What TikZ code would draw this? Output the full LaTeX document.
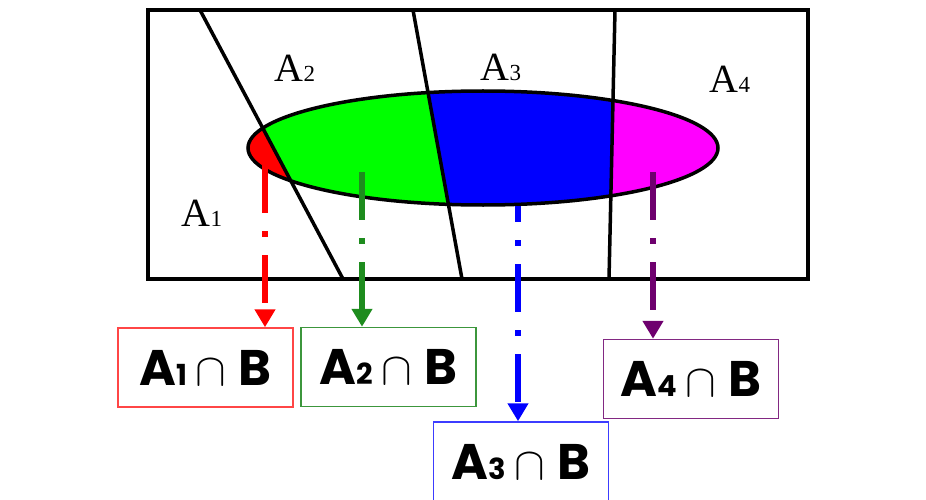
\documentclass[tikz,border=0pt]{standalone}
\usepackage{graphicx}
\usepackage{fontspec}
\setmainfont{Liberation Serif}
\newfontfamily\boxfont{Poppins}
\usetikzlibrary{arrows.meta}
\definecolor{regred}{RGB}{255,0,0}
\definecolor{reggreen}{RGB}{0,255,0}
\definecolor{regblue}{RGB}{0,0,255}
\definecolor{regmag}{RGB}{255,0,255}
\definecolor{arrgreen}{RGB}{30,140,30}
\definecolor{arrpurple}{RGB}{110,0,110}
\definecolor{boxred}{RGB}{255,70,70}
\definecolor{boxgreen}{RGB}{60,150,60}
\definecolor{boxblue}{RGB}{60,60,255}
\definecolor{boxpurple}{RGB}{130,40,130}
\newcommand{\setlabel}[1]{{\fontsize{40}{40}\selectfont A}{\fontsize{23}{23}\selectfont #1}}
\newcommand{\cutlabel}[1]{\boxfont\bfseries{\fontsize{50}{50}\selectfont A}{\fontsize{29}{29}\selectfont #1}\hspace{8pt}\scalebox{4.6}{$\cap$}\hspace{12pt}{\fontsize{50}{50}\selectfont B}}

\begin{document}
\begin{tikzpicture}[
  x=1pt, y=-1pt,
  edge/.style={line width=3.5pt, black},
  setname/.style={inner sep=0pt},
  cutbox/.style={draw, line width=1.5pt, minimum width=175pt, minimum height=79pt,
                 inner sep=0pt, text depth=0pt},
  proj/.style={line width=5.5pt, dash pattern=on 48pt off 18pt on 6pt off 18pt,
               -{Triangle[width=20pt,length=18pt]}},
]
\useasboundingbox (0,0) rectangle (926,500);

% coloured parts of the ellipse
\begin{scope}
  \clip (483,148) ellipse [x radius=235, y radius=57];
  \fill[regred]   (0,0) -- (200,10) -- (343,279) -- (0,279) -- cycle;
  \fill[reggreen] (200,10) -- (413,10) -- (462,279) -- (343,279) -- cycle;
  \fill[regblue]  (413,10) -- (615,10) -- (609,279) -- (462,279) -- cycle;
  \fill[regmag]   (615,10) -- (926,10) -- (926,279) -- (609,279) -- cycle;
\end{scope}
\draw[edge] (483,148) ellipse [x radius=235, y radius=57];

% sample space and partition
\draw[edge] (148,10) rectangle (808,279);
\draw[edge] (200,10) -- (343,279);
\draw[edge] (413,10) -- (462,279);
\draw[edge] (615,10) -- (609,279);

\node[setname] (a1) at (202,213) {\setlabel{1}};
\node[setname] (a2) at (295,68)  {\setlabel{2}};
\node[setname] (a3) at (501,67)  {\setlabel{3}};
\node[setname] (a4) at (730,79)  {\setlabel{4}};

% intersections
\node[cutbox, draw=boxred]    (c1) at (205.5,367.5) {\cutlabel{1}};
\node[cutbox, draw=boxgreen]  (c2) at (388.5,367)   {\cutlabel{2}};
\node[cutbox, draw=boxblue]   (c3) at (521,461.5)   {\cutlabel{3}};
\node[cutbox, draw=boxpurple] (c4) at (691,379)     {\cutlabel{4}};

\coordinate (s1) at (265,165);
\coordinate (s2) at (362,172);
\coordinate (s3) at (518,206);
\coordinate (s4) at (653,172);

\draw[proj, regred]    (s1) -- (s1 |- c1.north);
\draw[proj, arrgreen]  (s2) -- (s2 |- c2.north);
\draw[proj, regblue, dash phase=32pt] (s3) -- (s3 |- c3.north);
\draw[proj, arrpurple] (s4) -- (s4 |- c4.north);
\end{tikzpicture}
\end{document}
